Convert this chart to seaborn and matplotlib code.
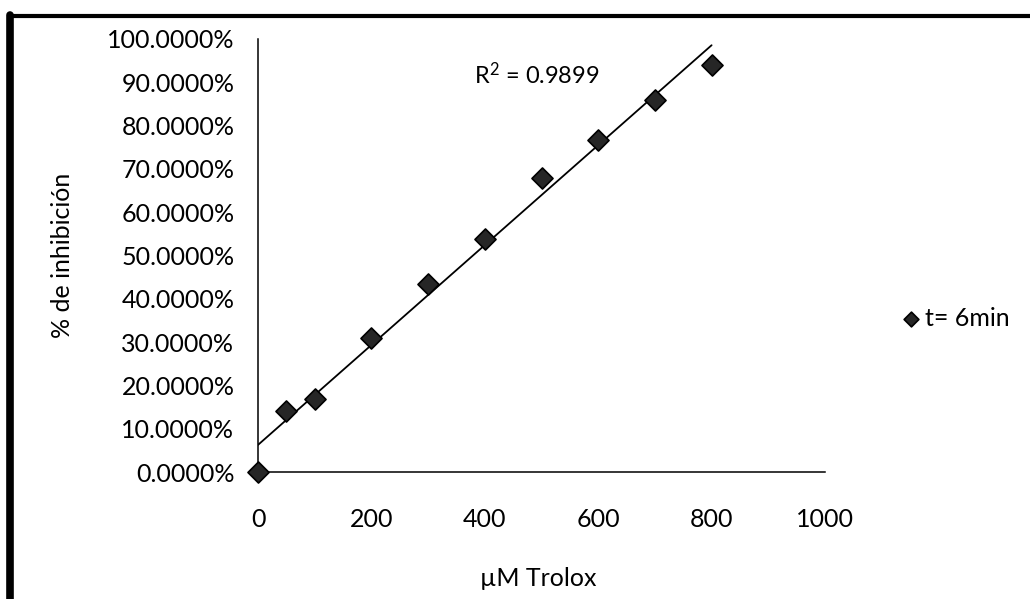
import numpy as np
import pandas as pd
import matplotlib
matplotlib.use("Agg")
import matplotlib.pyplot as plt
from matplotlib.lines import Line2D
from matplotlib.ticker import FuncFormatter
import seaborn as sns

# Trolox concentration (µM) and measured inhibition (%)
trolox_um = [0, 50, 100, 200, 300, 400, 500, 600, 700, 800]
inhibition_pct = [0.0, 14.0, 16.9, 30.9, 43.5, 53.8, 68.0, 76.6, 86.0, 94.0]
series_label = "t= 6min"
r2_label = r"R$^{\mathrm{2}}$ = 0.9899"
x_ticks = [0, 200, 400, 600, 800, 1000]
y_ticks = [0, 10, 20, 30, 40, 50, 60, 70, 80, 90, 100]

df = pd.DataFrame({"trolox": trolox_um, "inhib": inhibition_pct})

sns.set_theme(style="white")
plt.rcParams["font.family"] = ["Lato", "DejaVu Sans"]
plt.rcParams["mathtext.fontset"] = "custom"
plt.rcParams["mathtext.rm"] = "Lato"
plt.rcParams["mathtext.it"] = "Lato"
plt.rcParams["mathtext.default"] = "regular"

W, H = 1030, 599
fig = plt.figure(figsize=(W / 100, H / 100), dpi=100)
fig.patch.set_facecolor("white")


def fx(px):
    return px / W


def fy(py):
    return 1 - py / H


FS = 18

ax = fig.add_axes([fx(258), fy(472), fx(825) - fx(258), fy(39) - fy(472)])
ax.set_facecolor("white")

# linear trendline over the data range
sns.regplot(data=df, x="trolox", y="inhib", ax=ax, scatter=False, ci=None,
            truncate=True, line_kws=dict(color="black", lw=1.3))

sns.scatterplot(data=df, x="trolox", y="inhib", ax=ax, marker="D", s=115,
                color="#262626", edgecolor="black", linewidth=1.2,
                label=series_label, zorder=3, clip_on=False)

ax.set_xlim(0, 1000)
ax.set_ylim(0, 100)
ax.set_xticks(x_ticks)
ax.set_yticks(y_ticks)
ax.yaxis.set_major_formatter(FuncFormatter(lambda v, p: f"{v:.4f}%"))
ax.set_xlabel("")
ax.set_ylabel("")

for side in ("top", "right"):
    ax.spines[side].set_visible(False)
for side in ("left", "bottom"):
    ax.spines[side].set_color("black")
    ax.spines[side].set_linewidth(1.1)

ax.tick_params(axis="both", which="major", direction="out", length=6,
               width=1.0, color="black", labelsize=FS, labelcolor="black")
ax.tick_params(axis="y", pad=11)
ax.tick_params(axis="x", pad=20)
ax.grid(False)

# fit quality label
fig.text(fx(537), fy(75), r2_label, ha="center", va="center",
         fontsize=FS - 1, color="black")

# axis titles
fig.text(fx(63), fy(255), "% de inhibición", rotation=90, ha="center",
         va="center", fontsize=FS, color="black")
fig.text(fx(538), fy(578), "µM Trolox", ha="center", va="center",
         fontsize=FS, color="black")

# legend at the right of the plot area
leg = ax.legend(loc="center left", bbox_to_anchor=(fx(886), fy(318)),
                bbox_transform=fig.transFigure, frameon=False,
                fontsize=FS, handletextpad=0.05, borderpad=0,
                markerscale=0.7, handlelength=1.0)
for t in leg.get_texts():
    t.set_color("black")

# chart border (top and left edges)
fig.add_artist(Line2D([fx(10), fx(1030)], [fy(16), fy(16)], color="black",
                      lw=3.0, transform=fig.transFigure))
fig.add_artist(Line2D([fx(10), fx(10)], [fy(15), fy(599)], color="black",
                      lw=5.5, transform=fig.transFigure))

fig.savefig("out.png", dpi=100, facecolor="white")
